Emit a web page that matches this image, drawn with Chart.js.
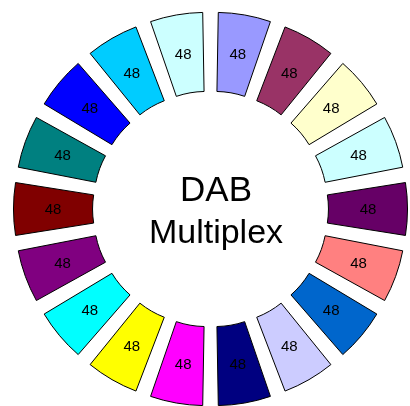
<!DOCTYPE html>
<html>
<head>
<meta charset="utf-8">
<script src="https://cdn.jsdelivr.net/npm/chart.js@4.4.1/dist/chart.umd.min.js"></script>
<style>
  html, body { margin: 0; padding: 0; background: #fff; }
  #wrap { width: 410px; height: 406px; }
</style>
</head>
<body>
<div id="wrap"><canvas id="dabChart"></canvas></div>
<script>
// Segment values, clockwise from 12 o'clock
const channels = ['1', '2', '3', '4', '5', '6', '7', '8', '9', '10', '11', '12', '13', '14', '15', '16', '17', '18'];
const capacity = [48, 48, 48, 48, 48, 48, 48, 48, 48, 48, 48, 48, 48, 48, 48, 48, 48, 48];
const segmentColors = ['#9999FF', '#993366', '#FFFFCC', '#CCFFFF', '#660066', '#FF8080',
    '#0066CC', '#CCCCFF', '#000080', '#FF00FF', '#FFFF00', '#00FFFF',
    '#800080', '#800000', '#008080', '#0000FF', '#00CCFF', '#CCFFFF'];
const centerLines = ['DAB', 'Multiplex'];

const OFFSET = 112;

// Draws the "48" labels in the middle of each exploded slice, and the centre title
const labelPlugin = {
    id: 'labelPlugin',
    afterDatasetsDraw(chart) {
        const ctx = chart.ctx;
        const meta = chart.getDatasetMeta(0);
        ctx.save();
        ctx.fillStyle = '#000';
        ctx.font = '15px "Liberation Sans", Arial, sans-serif';
        ctx.textAlign = 'center';
        ctx.textBaseline = 'middle';
        meta.data.forEach((arc, i) => {
            const p = arc.getProps(['x', 'y', 'startAngle', 'endAngle', 'innerRadius', 'outerRadius', 'circumference']);
            const mid = (p.startAngle + p.endAngle) / 2;
            const shift = OFFSET / 4;
            const grow = shift * (1 - Math.sin(Math.min(Math.PI, p.circumference)));
            const r = (p.innerRadius + p.outerRadius) / 2 + grow + shift;
            ctx.fillText(String(capacity[i]), p.x + Math.cos(mid) * r, p.y + Math.sin(mid) * r + 1);
        });
        ctx.font = '35px "Liberation Sans", Arial, sans-serif';
        ctx.textBaseline = 'alphabetic';
        ctx.fillText(centerLines[0], 216, 201);
        ctx.font = '34px "Liberation Sans", Arial, sans-serif';
        ctx.fillText(centerLines[1], 216, 243);
        ctx.restore();
    }
};

document.addEventListener("DOMContentLoaded", function() {
    const ctx = document.getElementById('dabChart').getContext('2d');
    new Chart(ctx, {
        type: 'doughnut',
        data: {
            labels: channels,
            datasets: [{
                data: capacity,
                backgroundColor: segmentColors,
                borderColor: '#000',
                borderWidth: 1,
                offset: OFFSET
            }]
        },
        options: {
            responsive: true,
            maintainAspectRatio: false,
            animation: false,
            radius: 150.6,
            cutout: '47.5%',
            layout: { padding: { left: 11, top: 12 } },
            plugins: {
                legend: { display: false },
                tooltip: { enabled: false }
            }
        },
        plugins: [labelPlugin]
    });
});
</script>
</body>
</html>
